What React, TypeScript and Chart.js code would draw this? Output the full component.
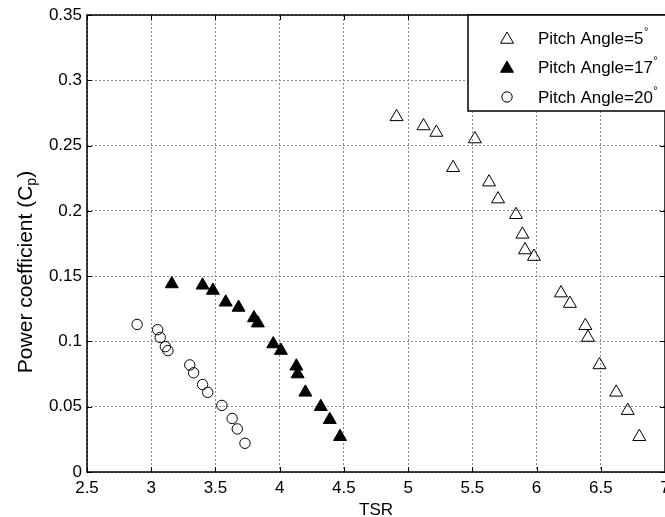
import React, { useEffect, useRef } from 'react';
import { Chart, registerables } from 'chart.js';
Chart.register(...registerables);

const pitch5TSR = [4.91, 5.12, 5.22, 5.35, 5.52, 5.63, 5.70, 5.84, 5.89, 5.91, 5.98, 6.19, 6.26, 6.38, 6.40, 6.49, 6.62, 6.71, 6.80];
const pitch5Cp = [0.272, 0.265, 0.260, 0.233, 0.255, 0.222, 0.209, 0.197, 0.182, 0.170, 0.165, 0.137, 0.129, 0.112, 0.103, 0.082, 0.061, 0.047, 0.027];

const pitch17TSR = [3.16, 3.40, 3.48, 3.58, 3.68, 3.80, 3.83, 3.95, 4.01, 4.13, 4.14, 4.20, 4.32, 4.39, 4.47];
const pitch17Cp = [0.144, 0.143, 0.139, 0.130, 0.126, 0.118, 0.114, 0.098, 0.093, 0.081, 0.075, 0.061, 0.050, 0.040, 0.027];

const pitch20TSR = [2.89, 3.05, 3.07, 3.11, 3.13, 3.30, 3.33, 3.40, 3.44, 3.55, 3.63, 3.67, 3.73];
const pitch20Cp = [0.113, 0.109, 0.103, 0.096, 0.093, 0.082, 0.076, 0.067, 0.061, 0.051, 0.041, 0.033, 0.022];

const xTicks = [2.5, 3, 3.5, 4, 4.5, 5, 5.5, 6, 6.5, 7];
const yTicks = [0, 0.05, 0.1, 0.15, 0.2, 0.25, 0.3, 0.35];
const legendLabels = ['Pitch Angle=5', 'Pitch Angle=17', 'Pitch Angle=20'];
const xTitle = 'TSR';
const yTitleMain = 'Power coefficient (C';
const yTitleSub = 'p';
const yTitleEnd = ')';

const FONT = "'Liberation Sans', Arial, sans-serif";
const FS = 17;
const TFS = 21;

function toPts(xs: number[], ys: number[]) {
  return xs.map((x, i) => ({ x, y: ys[i] }));
}

function drawTri(ctx: CanvasRenderingContext2D, x: number, y: number, r: number, filled: boolean) {
  ctx.beginPath();
  ctx.moveTo(x, y - r);
  ctx.lineTo(x + r * 0.866, y + r / 2);
  ctx.lineTo(x - r * 0.866, y + r / 2);
  ctx.closePath();
  if (filled) { ctx.fillStyle = '#000'; ctx.fill(); }
  ctx.strokeStyle = '#000';
  ctx.lineWidth = 1;
  ctx.stroke();
}

const decorPlugin = {
  id: 'decor',
  afterDraw(chart: any) {
    const ctx: CanvasRenderingContext2D = chart.ctx;
    const a = chart.chartArea;
    const xs = chart.scales.x;
    const ys = chart.scales.y;
    ctx.save();
    ctx.strokeStyle = '#000';
    ctx.lineWidth = 1;
    ctx.beginPath();
    xTicks.forEach((v) => {
      const px = Math.round(xs.getPixelForValue(v)) + 0.5;
      ctx.moveTo(px, a.bottom); ctx.lineTo(px, a.bottom - 5);
      ctx.moveTo(px, a.top); ctx.lineTo(px, a.top + 5);
    });
    yTicks.forEach((v) => {
      const py = Math.round(ys.getPixelForValue(v)) + 0.5;
      ctx.moveTo(a.left, py); ctx.lineTo(a.left + 5, py);
      ctx.moveTo(a.right, py); ctx.lineTo(a.right - 5, py);
    });
    ctx.stroke();
    ctx.lineWidth = 1.5;
    ctx.strokeRect(a.left, a.top, a.right - a.left, a.bottom - a.top);

    // legend
    const lx = 468, ly = 15, lw = 200, lh = 96;
    ctx.fillStyle = '#fff';
    ctx.fillRect(lx, ly, lw, lh);
    ctx.lineWidth = 1.5;
    ctx.strokeStyle = '#000';
    ctx.strokeRect(lx, ly, lw, lh);
    const rows = [38, 67, 97];
    rows.forEach((ry, i) => {
      const mx = 507;
      if (i === 0) drawTri(ctx, mx, ry + 1.5, 7.5, false);
      else if (i === 1) drawTri(ctx, mx, ry + 1.5, 7.5, true);
      else {
        ctx.beginPath();
        ctx.arc(mx, ry, 5.2, 0, Math.PI * 2);
        ctx.strokeStyle = '#000';
        ctx.lineWidth = 1;
        ctx.stroke();
      }
      ctx.fillStyle = '#000';
      ctx.font = `${FS}px ${FONT}`;
      ctx.textBaseline = 'middle';
      ctx.textAlign = 'left';
      ctx.fillText(legendLabels[i], 538, ry + 1);
      const w = ctx.measureText(legendLabels[i]).width;
      ctx.font = `11px ${FONT}`;
      ctx.fillText('°', 538 + w + 0.5, ry - 6);
    });

    // x title
    ctx.fillStyle = '#000';
    ctx.font = `${FS}px ${FONT}`;
    ctx.textAlign = 'center';
    ctx.textBaseline = 'middle';
    ctx.fillText(xTitle, (a.left + a.right) / 2, 510);

    // y title
    ctx.font = `${TFS}px ${FONT}`;
    const w1 = ctx.measureText(yTitleMain).width;
    ctx.font = `14px ${FONT}`;
    const w2 = ctx.measureText(yTitleSub).width;
    ctx.font = `${TFS}px ${FONT}`;
    const w3 = ctx.measureText(yTitleEnd).width;
    const total = w1 + w2 + w3;
    const cy = 272;
    ctx.translate(32, cy);
    ctx.rotate(-Math.PI / 2);
    ctx.textAlign = 'left';
    ctx.textBaseline = 'alphabetic';
    let sx = -total / 2;
    ctx.fillText(yTitleMain, sx, 0);
    sx += w1;
    ctx.font = `14px ${FONT}`;
    ctx.fillText(yTitleSub, sx, 4);
    sx += w2;
    ctx.font = `${TFS}px ${FONT}`;
    ctx.fillText(yTitleEnd, sx, 0);
    ctx.restore();
  },
};

export default function App() {
  const ref = useRef<HTMLCanvasElement | null>(null);
  useEffect(() => {
    if (!ref.current) return;
    const chart = new Chart(ref.current, {
      type: 'scatter',
      data: {
        datasets: [
          {
            label: legendLabels[0],
            data: toPts(pitch5TSR, pitch5Cp),
            pointStyle: 'triangle',
            pointRadius: 7.5,
            pointBackgroundColor: 'rgba(0,0,0,0)',
            pointBorderColor: '#000',
            pointBorderWidth: 1,
          },
          {
            label: legendLabels[1],
            data: toPts(pitch17TSR, pitch17Cp),
            pointStyle: 'triangle',
            pointRadius: 7.5,
            pointBackgroundColor: '#000',
            pointBorderColor: '#000',
            pointBorderWidth: 1,
          },
          {
            label: legendLabels[2],
            data: toPts(pitch20TSR, pitch20Cp),
            pointStyle: 'circle',
            pointRadius: 5.2,
            pointBackgroundColor: 'rgba(0,0,0,0)',
            pointBorderColor: '#000',
            pointBorderWidth: 1,
          },
        ],
      },
      options: {
        responsive: false,
        animation: false,
        events: [],
        layout: { autoPadding: false, padding: { top: 15, left: 0, right: 0, bottom: 0 } },
        plugins: { legend: { display: false }, tooltip: { enabled: false }, title: { display: false } },
        scales: {
          x: {
            type: 'linear',
            min: 2.5,
            max: 7,
            afterBuildTicks: (s: any) => { s.ticks = xTicks.map((v) => ({ value: v })); },
            afterFit: (s: any) => { s.height = 45; s.paddingLeft = 0; s.paddingRight = 0; },
            ticks: {
              color: '#000',
              padding: 6,
              maxRotation: 0,
              autoSkip: false,
              font: { family: FONT, size: FS },
              callback: (v: any) => String(v),
            },
            grid: { color: '#8a8a8a', lineWidth: 1, drawTicks: false },
            border: { display: false, dash: [2, 2] },
          },
          y: {
            type: 'linear',
            min: 0,
            max: 0.35,
            afterBuildTicks: (s: any) => { s.ticks = yTicks.map((v) => ({ value: v })); },
            afterFit: (s: any) => { s.width = 87; s.paddingTop = 0; s.paddingBottom = 0; },
            ticks: {
              color: '#000',
              padding: 5,
              autoSkip: false,
              font: { family: FONT, size: FS },
              callback: (v: any) => String(v),
            },
            grid: { color: '#8a8a8a', lineWidth: 1, drawTicks: false },
            border: { display: false, dash: [2, 2] },
          },
        },
      },
      plugins: [decorPlugin],
    });
    return () => chart.destroy();
  }, []);
  return (
    <div style={{ position: 'fixed', left: 0, top: 0, width: 665, height: 517, background: '#fff' }}>
      <canvas ref={ref} width={665} height={517} style={{ display: 'block' }} />
    </div>
  );
}
